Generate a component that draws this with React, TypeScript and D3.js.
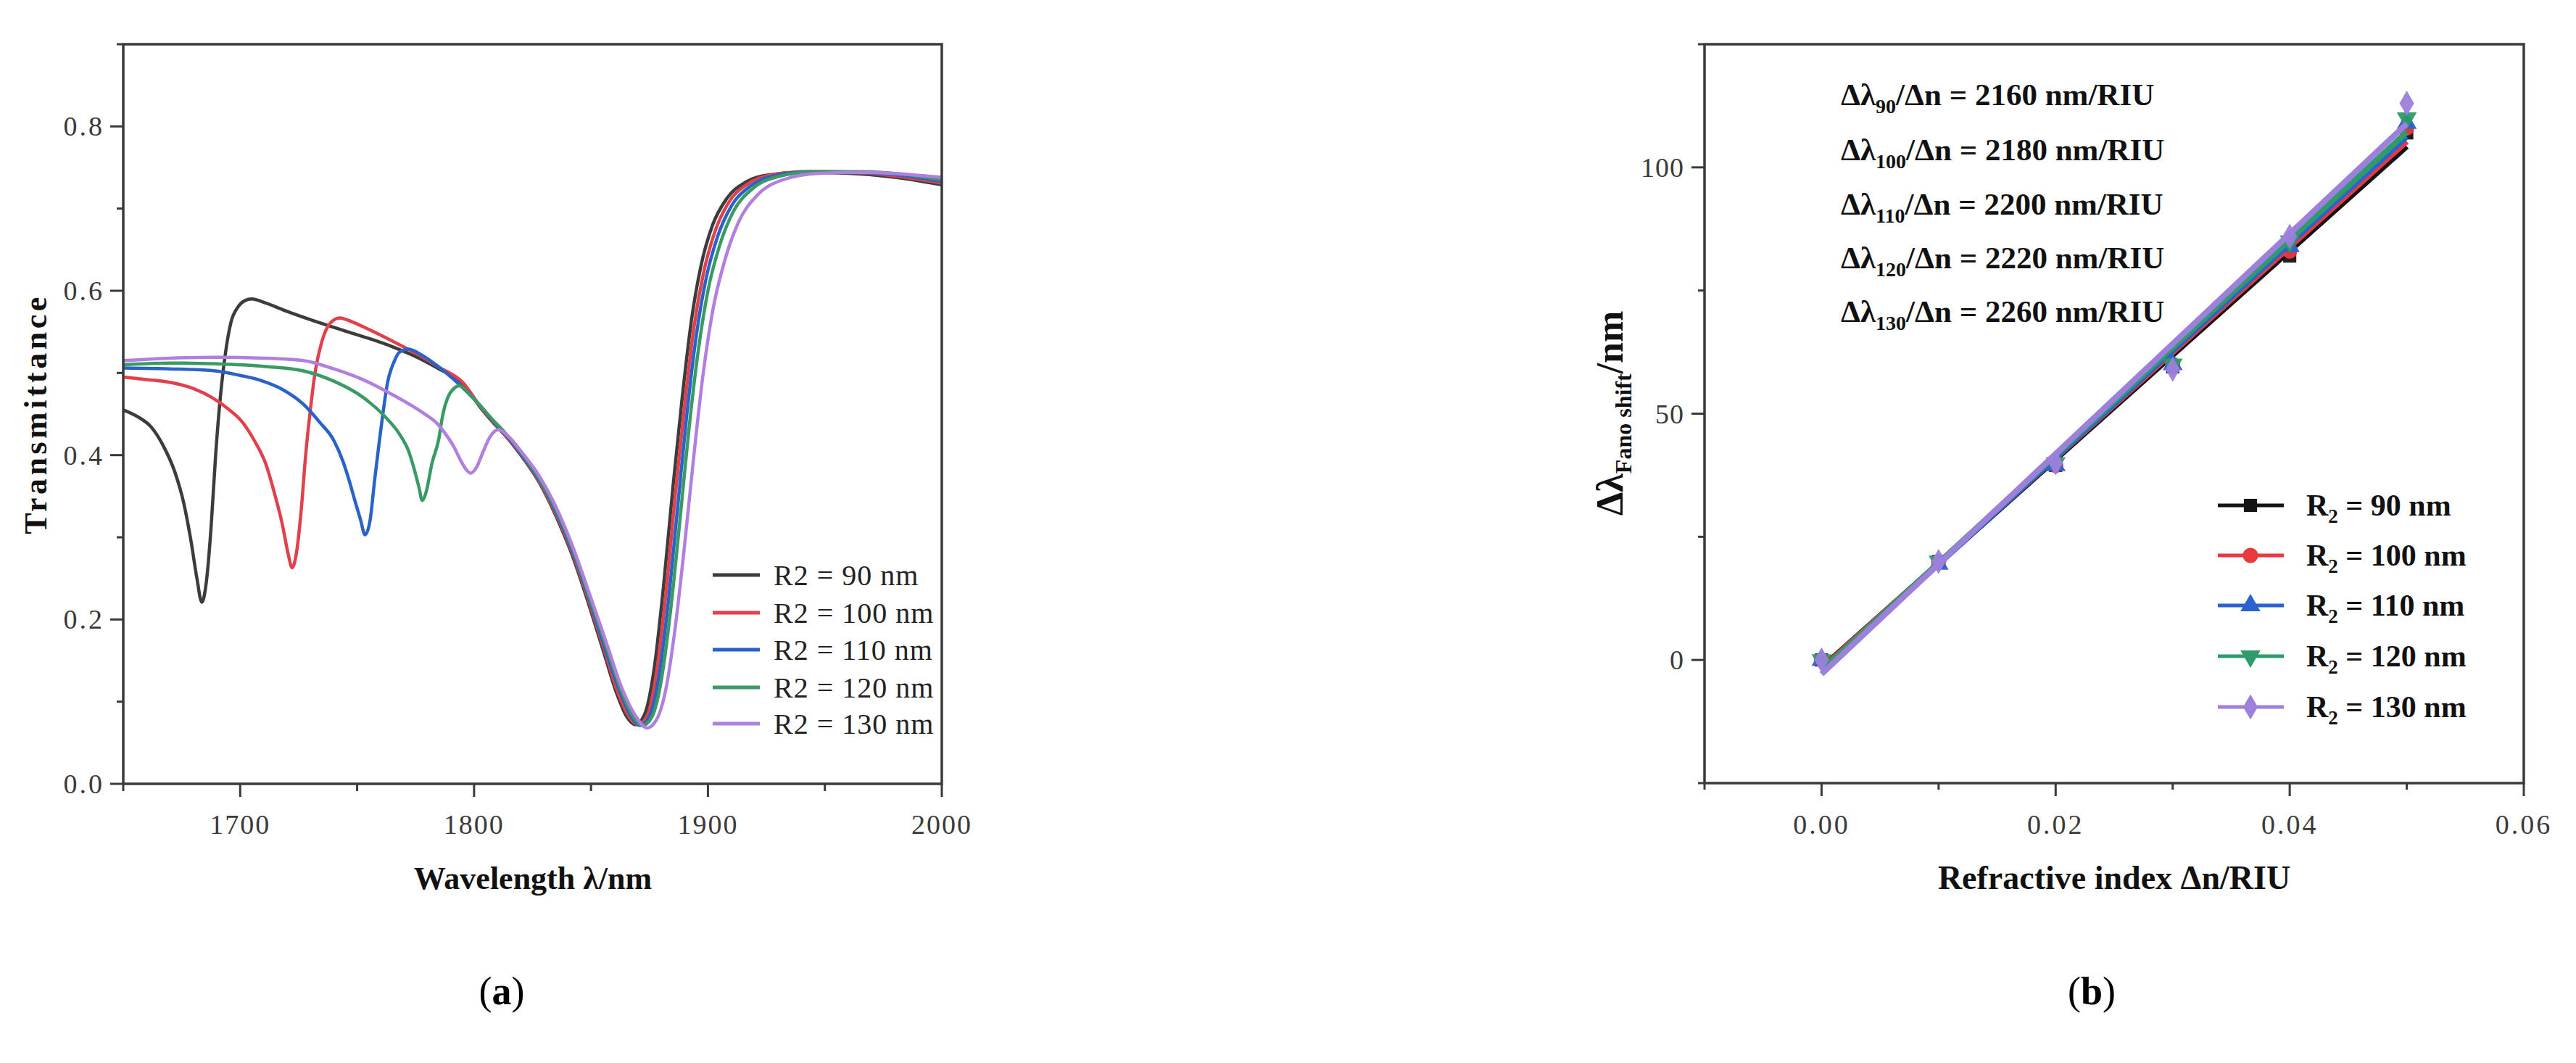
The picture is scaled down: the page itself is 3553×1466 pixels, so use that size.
import React from 'react';
import * as d3 from 'd3';

// ---------- Panel (a) data: transmittance spectra [wavelength nm, T] ----------
const spectrum90: [number, number][] = [
  [1650, .455], [1656, .447], [1662, .434], [1667, .412], [1672, .38], [1676, .34], [1679, .295], [1681.5, .25], [1683.6, .221],
  [1685.5, .245], [1687.5, .31], [1689.5, .40], [1691.5, .47], [1693.5, .52], [1696, .561], [1699, .58], [1702, .588], [1705, .590],
  [1710, .586], [1720, .575], [1733, .562], [1745, .551], [1755, .542], [1765, .532], [1775, .52], [1785, .505], [1795, .488],
  [1803, .457], [1808, .44], [1813, .425], [1820, .40], [1828, .366], [1835, .326], [1842, .278], [1850, .21], [1856, .155],
  [1861, .11], [1865, .083], [1869, .072], [1873, .085], [1877, .14], [1881, .24], [1885, .36], [1889, .47], [1893, .565],
  [1897, .63], [1902, .68], [1908, .712], [1916, .732], [1926, .741], [1940, .744], [1960, .743], [1980, .738], [2000, .729],
];
const spectrum100: [number, number][] = [
  [1650, .495], [1660, .492], [1669, .489], [1680, .481], [1688, .47], [1695, .456], [1701, .44], [1706, .418], [1711, .389],
  [1715, .35], [1718, .316], [1720.5, .28], [1722.2, .263], [1724, .28], [1726, .33], [1728, .40], [1730, .455], [1732, .50],
  [1734.7, .536], [1738.6, .561], [1742.5, .567], [1748, .562], [1755, .553], [1765, .539], [1775, .524], [1785, .507],
  [1795, .489], [1803, .458], [1808, .441], [1813, .426], [1820, .401], [1828, .367], [1835, .328], [1842, .281], [1850, .214],
  [1856, .16], [1861, .115], [1866, .083], [1870, .072], [1874, .083], [1878, .135], [1882, .23], [1886, .35], [1890, .46],
  [1894, .555], [1898, .62], [1903, .672], [1909, .708], [1917, .73], [1927, .741], [1942, .745], [1962, .744], [1982, .739], [2000, .731],
];
const spectrum110: [number, number][] = [
  [1650, .506], [1670, .505], [1688, .503], [1700, .497], [1708, .4916], [1718, .48], [1727, .462], [1734, .44], [1740, .418],
  [1744, .392], [1746.5, .37], [1749, .345], [1751.4, .322], [1753.4, .303], [1755.5, .32], [1757.5, .37], [1759.2, .41],
  [1761, .45], [1763, .488], [1766, .515], [1768, .525], [1772, .529], [1778, .521], [1785, .507], [1791, .493], [1797, .477],
  [1803, .459], [1808, .442], [1813, .427], [1820, .402], [1828, .369], [1835, .331], [1842, .284], [1850, .218], [1856, .165],
  [1862, .115], [1867, .083], [1871, .071], [1875, .082], [1879, .13], [1883, .22], [1887, .335], [1891, .45], [1895, .545],
  [1899, .612], [1904, .665], [1910, .703], [1918, .727], [1928, .74], [1944, .745], [1964, .744], [1984, .74], [2000, .733],
];
const spectrum120: [number, number][] = [
  [1650, .510], [1670, .512], [1690, .511], [1710, .508], [1727, .5025], [1740, .49], [1752.7, .47], [1761.7, .4475],
  [1768.1, .4256], [1772, .405], [1774.5, .382], [1776.5, .36], [1777.8, .345], [1779.5, .355], [1782, .39], [1784.8, .418],
  [1786.7, .45], [1788.7, .4696], [1791, .48], [1793.7, .4845], [1798, .474], [1803, .459], [1808, .443], [1813, .428],
  [1820, .404], [1828, .371], [1835, .334], [1842, .287], [1850, .222], [1857, .163], [1863, .113], [1868, .082], [1872, .071],
  [1876, .081], [1880, .125], [1884, .21], [1888, .32], [1892, .435], [1896, .53], [1900, .6], [1905, .655], [1911, .697],
  [1919, .724], [1930, .739], [1946, .745], [1966, .745], [1986, .741], [2000, .735],
];
const spectrum130: [number, number][] = [
  [1650, .515], [1670, .518], [1690, .519], [1710, .518], [1727, .515], [1740, .505], [1752.7, .4916], [1765.5, .473],
  [1778.4, .451], [1784.7, .437], [1788, .425], [1791.2, .411], [1794, .395], [1796.5, .383], [1798.6, .378], [1801, .385],
  [1804, .405], [1807, .423], [1810.4, .431], [1815, .422], [1820, .405], [1828, .374], [1835, .337], [1842, .29], [1850, .226],
  [1857, .168], [1863, .118], [1869, .083], [1874, .068], [1878, .078], [1882, .115], [1886, .19], [1890, .29], [1894, .4],
  [1898, .5], [1902, .575], [1907, .635], [1913, .683], [1921, .716], [1932, .735], [1948, .743], [1968, .744], [1988, .741], [2000, .738],
];
const spectraLabels = ['R2 = 90 nm', 'R2 = 100 nm', 'R2 = 110 nm', 'R2 = 120 nm', 'R2 = 130 nm'];
const spectraColors = ['#3c3c3c', '#e0414b', '#2962c8', '#3a9a64', '#b07fe0'];
const spectra = [spectrum90, spectrum100, spectrum110, spectrum120, spectrum130];

// ---------- Panel (b) data: Fano shift vs refractive index change ----------
const deltaN = [0, 0.01, 0.02, 0.03, 0.04, 0.05];
const shift90 = [0, 20, 39.5, 59.5, 82, 107];
const shift100 = [0, 20, 39.5, 60, 83, 108];
const shift110 = [0, 19.5, 39.5, 60, 84, 109];
const shift120 = [0, 20, 40, 60, 85, 110];
const shift130 = [0, 20, 40, 59, 86, 113];
const radii = [90, 100, 110, 120, 130];
const sensitivities = [2160, 2180, 2200, 2220, 2260];
const shiftColors = ['#141414', '#e8393f', '#2a63cf', '#2f9a6a', '#9d7fdc'];
const shifts = [shift90, shift100, shift110, shift120, shift130];

// ---------- Tick values ----------
const aXMajor = [1700, 1800, 1900, 2000];
const aXMinor = [1650, 1750, 1850, 1950];
const aYMajor = [0, 0.2, 0.4, 0.6, 0.8];
const aYMinor = [0.1, 0.3, 0.5, 0.7, 0.9];
const bXMajor = [0, 0.02, 0.04, 0.06];
const bXMinor = [-0.01, 0.01, 0.03, 0.05];
const bYMajor = [0, 50, 100];
const bYMinor = [-25, 25, 75, 125];

const TICK_FONT = '"Liberation Serif", "Times New Roman", serif';
const SERIF = '"Liberation Serif", "Times New Roman", serif';

function fit(xs: number[], ys: number[]) {
  const mx = d3.mean(xs)!;
  const my = d3.mean(ys)!;
  const sxy = d3.sum(xs.map((x, i) => (x - mx) * (ys[i] - my)));
  const sxx = d3.sum(xs.map((x) => (x - mx) * (x - mx)));
  const slope = sxy / sxx;
  return { slope, intercept: my - slope * mx };
}

function Frame({ x0, x1, y0, y1 }: { x0: number; x1: number; y0: number; y1: number }) {
  return <rect x={x0} y={y0} width={x1 - x0} height={y1 - y0} fill="none" stroke="#3a3a3a" strokeWidth={3.5} />;
}

export default function App() {
  const xA = d3.scaleLinear().domain([1650, 2000]).range([170, 1299]);
  const yA = d3.scaleLinear().domain([0, 0.9]).range([1081, 61]);
  const xB = d3.scaleLinear().domain([-0.01, 0.06]).range([2351, 3481]);
  const yB = d3.scaleLinear().domain([-25, 125]).range([1080, 61]);

  const lineA = d3
    .line<[number, number]>()
    .x((d) => xA(d[0]))
    .y((d) => yA(d[1]))
    .curve(d3.curveMonotoneX);

  const symbolTypes = [d3.symbolSquare, d3.symbolCircle, d3.symbolTriangle, d3.symbolTriangle, d3.symbolDiamond];
  const symbolSizes = [330, 350, 330, 330, 350];
  const symbolRot = [0, 0, 0, 180, 0];
  const symPath = (i: number) => d3.symbol().type(symbolTypes[i]).size(symbolSizes[i])() as string;

  const legendAY = [793, 845, 896, 948, 998];
  const legendBY = [697, 766, 835, 905, 975];
  const annotY = [145, 221, 296, 370, 444];

  return (
    <svg
      width={3553}
      height={1466}
      style={{ position: 'absolute', left: 0, top: 0, display: 'block', background: '#fff' }}
      xmlns="http://www.w3.org/2000/svg"
    >
      <rect x={0} y={0} width={3553} height={1466} fill="#fff" />

      {/* ================= Panel (a) ================= */}
      <g>
        {spectra.map((s, i) => (
          <path key={i} d={lineA(s) as string} fill="none" stroke={spectraColors[i]} strokeWidth={4.5} strokeLinejoin="round" />
        ))}
        <Frame x0={170} x1={1299} y0={61} y1={1081} />
        {aXMajor.map((v) => (
          <g key={'axM' + v}>
            <line x1={xA(v)} x2={xA(v)} y1={1081} y2={1099} stroke="#3a3a3a" strokeWidth={3} />
            <text x={xA(v)} y={1150} textAnchor="middle" fontFamily={TICK_FONT} fontSize={38} fill="#3a3a3a" letterSpacing={2}>
              {v}
            </text>
          </g>
        ))}
        {aXMinor.map((v) => (
          <line key={'axm' + v} x1={xA(v)} x2={xA(v)} y1={1081} y2={1091} stroke="#3a3a3a" strokeWidth={3} />
        ))}
        {aYMajor.map((v) => (
          <g key={'ayM' + v}>
            <line x1={170} x2={152} y1={yA(v)} y2={yA(v)} stroke="#3a3a3a" strokeWidth={3} />
            <text x={144} y={yA(v) + 13} textAnchor="end" fontFamily={TICK_FONT} fontSize={38} fill="#3a3a3a" letterSpacing={3}>
              {d3.format('.1f')(v)}
            </text>
          </g>
        ))}
        {aYMinor.map((v) => (
          <line key={'aym' + v} x1={170} x2={161} y1={yA(v)} y2={yA(v)} stroke="#3a3a3a" strokeWidth={3} />
        ))}
        <text x={735} y={1226} textAnchor="middle" fontFamily={SERIF} fontWeight="bold" fontSize={44} fill="#111">
          Wavelength λ/nm
        </text>
        <text
          transform="translate(64,571) rotate(-90)"
          textAnchor="middle"
          fontFamily={SERIF}
          fontWeight="bold"
          fontSize={44}
          letterSpacing={4.5}
          fill="#111"
        >
          Transmittance
        </text>
        {spectraLabels.map((lab, i) => (
          <g key={'lga' + i}>
            <line x1={983} x2={1048} y1={legendAY[i]} y2={legendAY[i]} stroke={spectraColors[i]} strokeWidth={5} />
            <text x={1067} y={legendAY[i] + 14} fontFamily={TICK_FONT} fontSize={40} fill="#222" letterSpacing={1}>
              {lab}
            </text>
          </g>
        ))}
        <text x={692} y={1385} textAnchor="middle" fontFamily={SERIF} fontSize={54} fill="#000">
          (<tspan fontWeight="bold">a</tspan>)
        </text>
      </g>

      {/* ================= Panel (b) ================= */}
      <g>
        {shifts.map((ys, i) => {
          const f = fit(deltaN, ys);
          const x0 = deltaN[0];
          const x1 = deltaN[deltaN.length - 1];
          return (
            <g key={'sb' + i}>
              <line
                x1={xB(x0)}
                y1={yB(f.intercept + f.slope * x0)}
                x2={xB(x1)}
                y2={yB(f.intercept + f.slope * x1)}
                stroke={shiftColors[i]}
                strokeWidth={8}
                strokeLinecap="butt"
              />
              {ys.map((v, j) => (
                <path
                  key={j}
                  d={symPath(i)}
                  transform={`translate(${xB(deltaN[j])},${yB(v)}) rotate(${symbolRot[i]})`}
                  fill={shiftColors[i]}
                  opacity={0.95}
                />
              ))}
            </g>
          );
        })}
        <Frame x0={2351} x1={3481} y0={61} y1={1080} />
        {bXMajor.map((v) => (
          <g key={'bxM' + v}>
            <line x1={xB(v)} x2={xB(v)} y1={1080} y2={1098} stroke="#3a3a3a" strokeWidth={3} />
            <text x={xB(v)} y={1150} textAnchor="middle" fontFamily={TICK_FONT} fontSize={38} fill="#3a3a3a" letterSpacing={3}>
              {d3.format('.2f')(v)}
            </text>
          </g>
        ))}
        {bXMinor.map((v) => (
          <line key={'bxm' + v} x1={xB(v)} x2={xB(v)} y1={1080} y2={1089} stroke="#3a3a3a" strokeWidth={3} />
        ))}
        {bYMajor.map((v) => (
          <g key={'byM' + v}>
            <line x1={2351} x2={2333} y1={yB(v)} y2={yB(v)} stroke="#3a3a3a" strokeWidth={3} />
            <text x={2323} y={yB(v) + 13} textAnchor="end" fontFamily={TICK_FONT} fontSize={38} fill="#3a3a3a" letterSpacing={1}>
              {v}
            </text>
          </g>
        ))}
        {bYMinor.map((v) => (
          <line key={'bym' + v} x1={2351} x2={2342} y1={yB(v)} y2={yB(v)} stroke="#3a3a3a" strokeWidth={3} />
        ))}
        <text x={2916} y={1226} textAnchor="middle" fontFamily={SERIF} fontWeight="bold" fontSize={46} fill="#111">
          Refractive index Δn/RIU
        </text>
        <text transform="translate(2238,570) rotate(-90)" textAnchor="middle" fontFamily={SERIF} fill="#111" fontSize={52}>
          <tspan fontWeight="bold">Δλ</tspan>
          <tspan fontSize={32} fontWeight="bold" dy={12}>
            Fano shift
          </tspan>
          <tspan fontWeight="bold" dy={-12}>
            /nm
          </tspan>
        </text>
        {radii.map((r, i) => (
          <text key={'an' + r} x={2539} y={annotY[i]} fontFamily={SERIF} fontWeight="bold" fontSize={43} fill="#111">
            Δλ
            <tspan fontSize={28} dy={11}>
              {r}
            </tspan>
            <tspan dy={-11}>{`/Δn = ${sensitivities[i]} nm/RIU`}</tspan>
          </text>
        ))}
        {radii.map((r, i) => (
          <g key={'lgb' + r}>
            <line x1={3059} x2={3150} y1={legendBY[i]} y2={legendBY[i]} stroke={shiftColors[i]} strokeWidth={5} />
            <path d={symPath(i)} transform={`translate(3104,${legendBY[i]}) rotate(${symbolRot[i]})`} fill={shiftColors[i]} />
            <text x={3181} y={legendBY[i] + 14} fontFamily={SERIF} fontWeight="bold" fontSize={42} fill="#111">
              R
              <tspan fontSize={27} dy={10}>
                2
              </tspan>
              <tspan dy={-10}>{` = ${r} nm`}</tspan>
            </text>
          </g>
        ))}
        <text x={2885} y={1385} textAnchor="middle" fontFamily={SERIF} fontSize={54} fill="#000">
          (<tspan fontWeight="bold">b</tspan>)
        </text>
      </g>
    </svg>
  );
}
